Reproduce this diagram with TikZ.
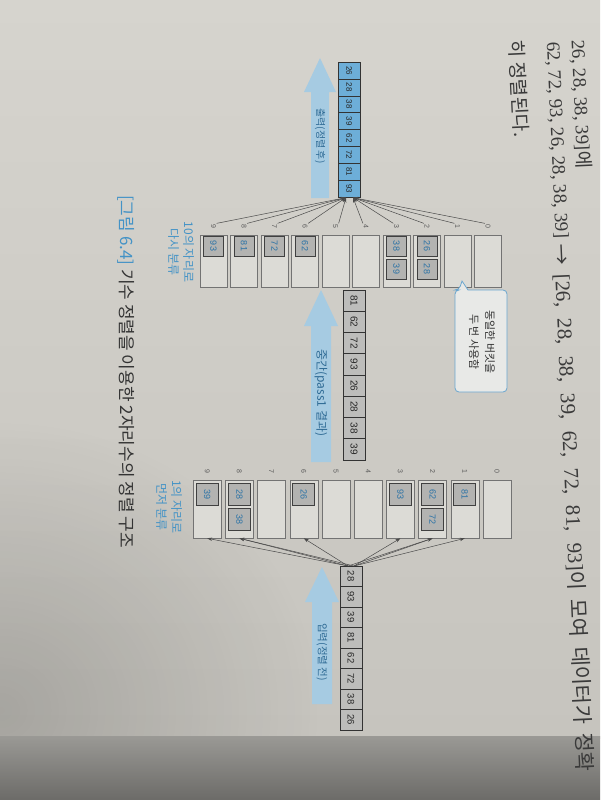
\documentclass[tikz,border=0pt]{standalone}
\usepackage{fontspec}
\setmainfont{Noto Sans CJK KR}
\newfontfamily\numf{Liberation Sans}
\newfontfamily\sernum{Liberation Serif}
\usetikzlibrary{arrows.meta,fadings}
\tikzfading[name=softspot, inner color=transparent!0, outer color=transparent!100]
\definecolor{pagetop}{HTML}{D6D4CE}
\definecolor{pagebot}{HTML}{C6C4BE}
\definecolor{edgedark}{HTML}{9A9995}
\definecolor{edgedarker}{HTML}{6C6B68}
\definecolor{arrowblue}{HTML}{A6CBE2}
\definecolor{arrowtext}{HTML}{2F6B95}
\definecolor{outblue}{HTML}{6DAED8}
\definecolor{cellgray}{HTML}{BDBDBB}
\definecolor{itemgray}{HTML}{B3B3B1}
\definecolor{itemtext}{HTML}{2C73A6}
\definecolor{bucketfill}{HTML}{DCDBD6}
\definecolor{labelblue}{HTML}{4493C6}
\definecolor{bodytext}{HTML}{3A3A3A}
\definecolor{balloonline}{HTML}{6AA6CF}
\definecolor{balloonfill}{HTML}{E8E9E7}
\definecolor{linegray}{HTML}{4A4A4A}
\begin{document}
\begin{tikzpicture}[x=1pt,y=-1pt,
  cellbase/.style={draw=black!80, line width=0.6pt, inner sep=0pt, rotate=-90, text=black!85},
  outcell/.style={cellbase, fill=outblue, minimum width=16.9pt, minimum height=22pt, font=\numf\fontsize{8}{8}\selectfont},
  midcell/.style={cellbase, fill=cellgray, minimum width=21.25pt, minimum height=22pt, font=\numf\fontsize{10}{10}\selectfont},
  incell/.style={cellbase, fill=cellgray, minimum width=20.5pt, minimum height=22pt, font=\numf\fontsize{9.5}{9.5}\selectfont},
  bucketbox/.style={draw=black!55, line width=0.6pt, fill=bucketfill, rotate=-90, inner sep=0pt},
  itembox/.style={draw=black!75, line width=0.8pt, fill=itemgray, rotate=-90, inner sep=0pt, text=itemtext, font=\numf\fontsize{9}{9}\selectfont},
  binlabel/.style={rotate=-90, text=black!65, inner sep=0.5pt, font=\numf\fontsize{7}{7}\selectfont},
  feed/.style={draw=linegray, line width=0.5pt, -{Stealth[length=5pt,width=3.4pt]}},
  arrowlabel/.style={rotate=-90, text=arrowtext, inner sep=0pt},
  bodyline/.style={text=bodytext, inner sep=0pt, font=\fontsize{19}{19}\selectfont},
  bluenote/.style={rotate=-90, text=labelblue, align=center, inner sep=0pt, font=\fontsize{12}{15}\selectfont}
]
\useasboundingbox (0,0) rectangle (600,800);
% page, shadow and photo edge
\shade[top color=pagetop, bottom color=pagebot] (0,0) rectangle (600,738);
\begin{scope}
  \clip (0,0) rectangle (600,738);
  \fill[black, opacity=0.16, path fading=softspot] (-320,420) rectangle (320,1000);
\end{scope}
\shade[top color=edgedark, bottom color=edgedarker] (0,736) rectangle (600,800);

% body text lines
\node[bodyline, anchor=west, rotate=-87.4] (t1) at (578,40) {\sernum 26, 28, 38, 39]\rmfamily 에};
\node[bodyline, anchor=west, rotate=-87.4] (t2a) at (552,42) {\sernum 62, 72, 93, 26, 28, 38, 39]};
\node[bodyline, anchor=west, rotate=-87.4, font=\fontsize{21}{21}\selectfont] (t2b) at (561,244) {\hbox to 528pt{\rmfamily → \sernum [26, 28, 38, 39, 62, 72, 81, 93]\rmfamily 이 모여 데이터가 정확}};
\node[bodyline, anchor=west, rotate=-87.4] (t3) at (517,40) {히 정렬된다.};

% big arrows
\fill[arrowblue] (320,58) -- (336,92) -- (329,92) -- (329,198) -- (311,198) -- (311,92) -- (304,92) -- cycle;
\node[arrowlabel, font=\fontsize{10}{10}\selectfont] (outlbl) at (320,136) {출력(정렬 후)};
\fill[arrowblue] (321,290) -- (338,326) -- (331,326) -- (331,462) -- (311,462) -- (311,326) -- (304,326) -- cycle;
\node[arrowlabel, font=\fontsize{12}{12}\selectfont] (midlbl) at (321,393) {중간(pass1 결과)};
\fill[arrowblue] (322,567) -- (339,602) -- (332,602) -- (332,704) -- (312,704) -- (312,602) -- (305,602) -- cycle;
\node[arrowlabel, font=\fontsize{10.5}{10.5}\selectfont] (inlbl) at (322,652) {입력(정렬 전)};

% arrays
\foreach \v [count=\i from 0] in {26,28,38,39,62,72,81,93}
  \node[outcell] (o\i) at (349, 70.45+16.9*\i) {\v};
\foreach \v [count=\i from 0] in {81,62,72,93,26,28,38,39}
  \node[midcell] (m\i) at (354, 300.625+21.25*\i) {\v};
\foreach \v [count=\i from 0] in {28,93,39,81,62,72,38,26}
  \node[incell] (n\i) at (351, 576.25+20.5*\i) {\v};

% pass 2 buckets (tens digit)
\foreach \k in {0,...,9} {
  \node[bucketbox, minimum width=52pt, minimum height=27pt] (tb\k) at (488-30.5*\k, 261) {};
  \node[binlabel] (tl\k) at (488-30.5*\k, 226) {\k};
}
\node[itembox, minimum size=20pt] (p2a) at (427,246) {26};
\node[itembox, minimum size=20pt] (p2b) at (427,269) {28};
\node[itembox, minimum size=20pt] (p3a) at (396.5,246) {38};
\node[itembox, minimum size=20pt] (p3b) at (396.5,269) {39};
\node[itembox, minimum size=20pt] (p6) at (305,246) {62};
\node[itembox, minimum size=20pt] (p7) at (274.5,246) {72};
\node[itembox, minimum size=20pt] (p8) at (244,246) {81};
\node[itembox, minimum size=20pt] (p9) at (213.5,246) {93};

% pass 1 buckets (units digit)
\foreach \k in {0,...,9} {
  \node[bucketbox, minimum width=58pt, minimum height=28pt] (bb\k) at (497-32.2*\k, 509) {};
  \node[binlabel] (bl\k) at (497-32.2*\k, 471) {\k};
}
\node[itembox, minimum size=22pt] (q1) at (464.8,494) {81};
\node[itembox, minimum size=22pt] (q2a) at (432.6,494) {62};
\node[itembox, minimum size=22pt] (q2b) at (432.6,519) {72};
\node[itembox, minimum size=22pt] (q3) at (400.4,494) {93};
\node[itembox, minimum size=22pt] (q6) at (303.8,494) {26};
\node[itembox, minimum size=22pt] (q8a) at (239.4,494) {28};
\node[itembox, minimum size=22pt] (q8b) at (239.4,519) {38};
\node[itembox, minimum size=22pt] (q9) at (207.2,494) {39};

% connectors pass 1: input -> buckets
\coordinate (inA) at (348,566);
\coordinate (inB) at (354,566);
\draw[feed] (inA) -- (bb8.east);
\draw[feed] (inB) -- (bb3.east);
\draw[feed] (inA) -- (bb9.east);
\draw[feed] (inB) -- (bb1.east);
\draw[feed] (inA) -- (bb2.east);
\draw[feed] (inB) -- (bb2.east);
\draw[feed] (inB) -- (bb8.east);
\draw[feed] (inA) -- (bb6.east);

% connectors pass 2: buckets -> output
\coordinate (outL) at (346,197.6);
\coordinate (outR) at (353,197.6);
\foreach \k in {5,...,9} \draw[feed] (tl\k.north west) -- (outL);
\foreach \k in {0,...,4} \draw[feed] (tl\k.south west) -- (outR);

% balloon
\draw[balloonline, fill=balloonfill, line width=0.8pt] (459,290) -- (462,281) -- (468,290) [rounded corners=4pt] -- (507,290) -- (507,392) -- (455,392) -- (455,290) -- cycle;
\node[rotate=-90, align=center, text=black!80, inner sep=0pt, font=\fontsize{11}{16}\selectfont] (note) at (482,342) {동일한 버킷을\\두 번 사용함};

% blue notes
\node[bluenote] (n10) at (181,252) {10의 자리로\\다시 분류};
\node[bluenote] (n1) at (169,507) {1의 자리로\\먼저 분류};

% caption
\node[rotate=-90, anchor=west, inner sep=0pt, text=black!80, font=\fontsize{17}{17}\selectfont] (cap) at (126,195) {\textcolor{labelblue}{[그림 6.4]} 기수 정렬을 이용한 2자리수의 정렬 구조};
\end{tikzpicture}
\end{document}
